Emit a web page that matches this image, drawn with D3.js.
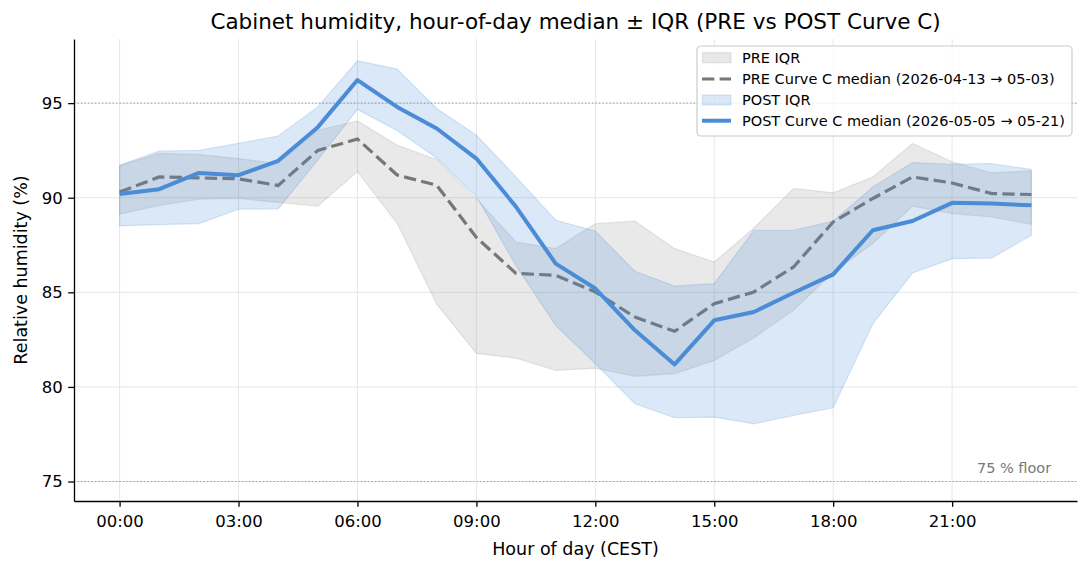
<!DOCTYPE html>
<html>
<head>
<meta charset="utf-8">
<script src="https://cdn.jsdelivr.net/npm/d3@7"></script>
<style>
  body { margin: 0; background: #fff; }
  svg { font-family: "DejaVu Sans", sans-serif; }
  .axis path, .axis line { stroke: #000; stroke-width: 1.3; }
  .axis text { fill: #000; }
</style>
</head>
<body>
<div id="chart"></div>
<script>
// hour-of-day buckets
const hours = [0, 1, 2, 3, 4, 5, 6, 7, 8, 9, 10, 11, 12, 13, 14, 15, 16, 17, 18, 19, 20, 21, 22, 23];
const xTicks = [0, 3, 6, 9, 12, 15, 18, 21];
const yTicks = [75, 80, 85, 90, 95];

// PRE period (2026-04-13 -> 05-03)
const preMedian = [90.3, 91.1, 91.05, 91.0, 90.65, 92.5, 93.1, 91.2, 90.66, 87.9, 86.0, 85.9,
  85.02, 83.69, 82.94, 84.4, 85.02, 86.34, 88.72, 89.96, 91.1, 90.78, 90.22, 90.17];
const preQ1 = [89.13, 89.6, 89.92, 89.96, 89.75, 89.55, 91.38, 88.65, 84.37, 81.77, 81.52, 80.87,
  80.99, 80.56, 80.7, 81.4, 82.6, 84.05, 86.06, 87.58, 89.55, 89.16, 88.98, 88.6];
const preQ3 = [91.7, 92.34, 92.29, 92.07, 91.81, 93.57, 94.06, 92.78, 92.02, 89.95, 87.66, 87.31,
  88.63, 88.76, 87.31, 86.6, 88.4, 90.49, 90.26, 91.1, 92.87, 91.9, 91.31, 91.42];

// POST period (2026-05-05 -> 05-21)
const postMedian = [90.2, 90.45, 91.31, 91.19, 91.95, 93.73, 96.22, 94.8, 93.66, 92.07, 89.52, 86.52,
  85.2, 82.99, 81.19, 83.52, 83.96, 84.98, 85.95, 88.28, 88.77, 89.73, 89.69, 89.6];
const postQ1 = [88.51, 88.58, 88.63, 89.39, 89.41, 92.0, 94.67, 93.55, 92.1, 90.08, 86.4, 83.25,
  81.23, 79.11, 78.37, 78.4, 78.05, 78.49, 78.9, 83.34, 86.02, 86.78, 86.81, 88.02];
const postQ3 = [91.72, 92.46, 92.51, 92.88, 93.26, 94.8, 97.24, 96.8, 94.72, 93.31, 91.1, 88.81,
  88.24, 86.11, 85.33, 85.46, 88.28, 88.28, 88.77, 90.57, 91.86, 91.77, 91.81, 91.49];

const refLines = [95, 75];

const legendLabels = ['PRE IQR', 'PRE Curve C median (2026-04-13 \u2192 05-03)',
  'POST IQR', 'POST Curve C median (2026-05-05 \u2192 05-21)'];

const BLUE = '#4a8cd6';
const GREY = '#777777';

const width = 1092, height = 571;
const margin = { top: 39, right: 15, bottom: 70, left: 74 };

const svg = d3.select('#chart').append('svg')
    .attr('width', width)
    .attr('height', height);

const x = d3.scaleLinear()
    .domain([-1.15, 24.15])
    .range([margin.left, width - margin.right]);

const y = d3.scaleLinear()
    .domain([73.97, 98.39])
    .range([height - margin.bottom, margin.top]);

// grid
svg.append('g').selectAll('line.vg')
    .data(xTicks)
    .join('line')
    .attr('x1', d => x(d)).attr('x2', d => x(d))
    .attr('y1', y.range()[0]).attr('y2', y.range()[1])
    .attr('stroke', '#e6e6e6').attr('stroke-width', 1);

svg.append('g').selectAll('line.hg')
    .data(yTicks)
    .join('line')
    .attr('x1', x.range()[0]).attr('x2', x.range()[1])
    .attr('y1', d => y(d)).attr('y2', d => y(d))
    .attr('stroke', '#e6e6e6').attr('stroke-width', 1);

// dotted reference lines
svg.append('g').selectAll('line')
    .data(refLines)
    .join('line')
    .attr('x1', x.range()[0]).attr('x2', x.range()[1])
    .attr('y1', d => y(d)).attr('y2', d => y(d))
    .attr('stroke', '#999').attr('stroke-width', 1)
    .attr('stroke-dasharray', '1.3,2.2');

svg.append('text')
    .attr('x', x(23.5))
    .attr('y', y(75) - 9)
    .attr('text-anchor', 'end')
    .attr('font-size', 14.5)
    .attr('fill', '#777')
    .text('75 % floor');

const band = (lo, hi) => d3.area()
    .x((d, i) => x(hours[i]))
    .y0((d, i) => y(lo[i]))
    .y1((d, i) => y(hi[i]));

const line = vals => d3.line()
    .x((d, i) => x(hours[i]))
    .y((d, i) => y(vals[i]));

// PRE
svg.append('path')
    .attr('d', band(preQ1, preQ3)(hours))
    .attr('fill', '#8c8c8c').attr('fill-opacity', 0.19)
    .attr('stroke', '#8c8c8c').attr('stroke-opacity', 0.19).attr('stroke-width', 1.2);

svg.append('path')
    .attr('d', line(preMedian)(hours))
    .attr('fill', 'none')
    .attr('stroke', GREY).attr('stroke-width', 3.2)
    .attr('stroke-dasharray', '12.3,5.3');

// POST
svg.append('path')
    .attr('d', band(postQ1, postQ3)(hours))
    .attr('fill', BLUE).attr('fill-opacity', 0.2)
    .attr('stroke', BLUE).attr('stroke-opacity', 0.2).attr('stroke-width', 1.2);

svg.append('path')
    .attr('d', line(postMedian)(hours))
    .attr('fill', 'none')
    .attr('stroke', BLUE).attr('stroke-width', 4)
    .attr('stroke-linejoin', 'round');

// axes
const pad = n => String(n).padStart(2, '0') + ':00';

svg.append('g')
    .attr('class', 'axis')
    .attr('transform', `translate(0,${y.range()[0]})`)
    .call(d3.axisBottom(x).tickValues(xTicks).tickFormat(pad).tickSize(5.8).tickPadding(8.5).tickSizeOuter(0))
    .call(g => g.selectAll('text').attr('font-size', 16.5).attr('font-family', 'DejaVu Sans'));

svg.append('g')
    .attr('class', 'axis')
    .attr('transform', `translate(${x.range()[0]},0)`)
    .call(d3.axisLeft(y).tickValues(yTicks).tickSize(5.8).tickPadding(5.5).tickSizeOuter(0))
    .call(g => g.selectAll('text').attr('font-size', 16.5).attr('font-family', 'DejaVu Sans'));

// titles
svg.append('text')
    .attr('x', (x.range()[0] + x.range()[1]) / 2)
    .attr('y', 29)
    .attr('text-anchor', 'middle')
    .attr('font-size', 21.5)
    .text('Cabinet humidity, hour-of-day median \u00b1 IQR (PRE vs POST Curve C)');

svg.append('text')
    .attr('x', (x.range()[0] + x.range()[1]) / 2)
    .attr('y', 555)
    .attr('text-anchor', 'middle')
    .attr('font-size', 17.5)
    .text('Hour of day (CEST)');

svg.append('text')
    .attr('transform', `translate(27,${(y.range()[0] + y.range()[1]) / 2}) rotate(-90)`)
    .attr('text-anchor', 'middle')
    .attr('font-size', 17.5)
    .text('Relative humidity (%)');

// legend
const lg = svg.append('g').attr('transform', 'translate(697,46)');
lg.append('rect')
    .attr('width', 375).attr('height', 90)
    .attr('rx', 4)
    .attr('fill', '#fff').attr('fill-opacity', 0.8)
    .attr('stroke', '#ccc').attr('stroke-width', 1.2);

const rowY = [11.7, 33, 54, 74.7];
const swatch = [
  { type: 'patch', color: '#8c8c8c' },
  { type: 'dash', color: GREY },
  { type: 'patch', color: BLUE },
  { type: 'line', color: BLUE },
];

swatch.forEach((s, i) => {
  if (s.type === 'patch') {
    lg.append('rect')
        .attr('x', 5.5).attr('y', rowY[i] - 5)
        .attr('width', 28.5).attr('height', 10)
        .attr('fill', s.color).attr('fill-opacity', 0.2)
        .attr('stroke', s.color).attr('stroke-opacity', 0.2).attr('stroke-width', 1.2);
  } else {
    lg.append('line')
        .attr('x1', 5).attr('x2', 34)
        .attr('y1', rowY[i]).attr('y2', rowY[i])
        .attr('stroke', s.color)
        .attr('stroke-width', s.type === 'dash' ? 3.2 : 4)
        .attr('stroke-dasharray', s.type === 'dash' ? '12.3,5.3' : null);
  }
  lg.append('text')
      .attr('x', 45).attr('y', rowY[i] + 5)
      .attr('font-size', 14.5)
      .text(legendLabels[i]);
});
</script>
</body>
</html>
